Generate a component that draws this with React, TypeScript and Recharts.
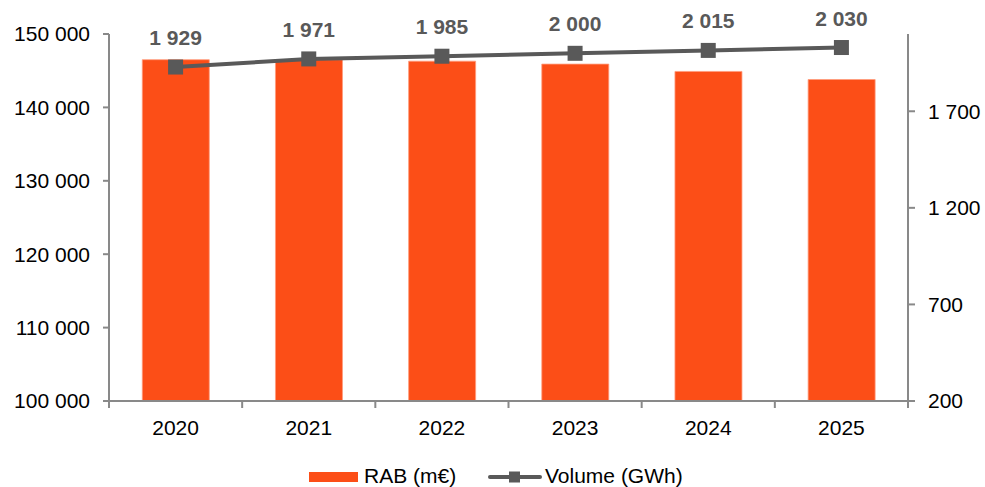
import React from 'react';
import { ComposedChart, Bar, Line, XAxis, YAxis, LabelList, Legend } from 'recharts';

const years = ['2020', '2021', '2022', '2023', '2024', '2025'];
const rab = [146500, 146500, 146300, 145900, 144900, 143800];
const volume = [1929, 1971, 1985, 2000, 2015, 2030];
const leftTicks = [100000, 110000, 120000, 130000, 140000, 150000];
const rightTicks = [200, 700, 1200, 1700];

const data = years.map((y, i) => ({ year: y, rab: rab[i], volume: volume[i] }));

const FONT = '"Liberation Sans", Arial, sans-serif';
const BAR = '#FC4E17';
const LINE = '#595959';
const AXIS = '#898989';

const fmt = (v: number) => String(v).replace(/\B(?=(\d{3})+(?!\d))/g, ' ');

const XTick = (props: any) => {
  const { x, y, payload, index, visibleTicksCount } = props;
  const off = payload && payload.offset ? payload.offset : 66.6;
  const left = x - off;
  const right = x + off;
  return (
    <g>
      <line x1={left} y1={y} x2={left} y2={y + 7} stroke={AXIS} strokeWidth={2} />
      {index === visibleTicksCount - 1 && (
        <line x1={right} y1={y} x2={right} y2={y + 7} stroke={AXIS} strokeWidth={2} />
      )}
      <text x={x} y={y + 34} textAnchor="middle" fill="#000" fontSize={21} fontFamily={FONT}>
        {payload.value}
      </text>
    </g>
  );
};

const SquareDot = (p: any) => (
  <rect key={`d${p.index}`} x={p.cx - 7.5} y={p.cy - 7.5} width={15} height={15} fill={LINE} />
);

const VolLabel = (p: any) => {
  const x = p.viewBox && p.viewBox.x != null ? p.viewBox.x : p.x;
  const y = p.viewBox && p.viewBox.y != null ? p.viewBox.y : p.y;
  return (
    <text x={x} y={y - 22} textAnchor="middle" fill={LINE} fontSize={21} fontWeight="bold" fontFamily={FONT}>
      {fmt(p.value)}
    </text>
  );
};

const LegendContent = () => (
  <div style={{ height: 36, width: 985, position: 'relative', fontFamily: FONT, fontSize: 21, color: '#000' }}>
    <div style={{ position: 'absolute', left: 309, top: 21, width: 49, height: 10, background: BAR }} />
    <span style={{ position: 'absolute', left: 364, top: 13, lineHeight: '24px', whiteSpace: 'nowrap' }}>RAB (m€)</span>
    <svg style={{ position: 'absolute', left: 488, top: 19 }} width={54} height={14}>
      <line x1={2} y1={7} x2={52} y2={7} stroke={LINE} strokeWidth={4} strokeLinecap="round" />
      <rect x={21} y={1.5} width={11} height={11} fill={LINE} />
    </svg>
    <span style={{ position: 'absolute', left: 545, top: 13, lineHeight: '24px', whiteSpace: 'nowrap' }}>Volume (GWh)</span>
  </div>
);

export default function App() {
  return (
    <div style={{ position: 'absolute', left: 0, top: 0, width: 985, height: 487, background: '#fff' }}>
      <ComposedChart
        width={985}
        height={487}
        data={data}
        margin={{ top: 34, right: 0, bottom: 0, left: 0 }}
        barCategoryGap="25%"
        style={{ fontFamily: FONT }}
      >
        <XAxis
          dataKey="year"
          height={50}
          tickSize={0}
          tickMargin={0}
          tickLine={false}
          axisLine={{ stroke: AXIS, strokeWidth: 2 }}
          tick={<XTick />}
          interval={0}
        />
        <YAxis
          yAxisId="left"
          orientation="left"
          width={109}
          domain={[100000, 150000]}
          ticks={leftTicks}
          tickFormatter={fmt}
          tickSize={6}
          tickMargin={13}
          axisLine={{ stroke: AXIS, strokeWidth: 2 }}
          tickLine={{ stroke: AXIS, strokeWidth: 2 }}
          tick={{ fill: '#000', fontSize: 21, fontFamily: FONT }}
          allowDataOverflow
        />
        <YAxis
          yAxisId="right"
          orientation="right"
          width={77}
          domain={[200, 2100]}
          ticks={rightTicks}
          tickFormatter={fmt}
          tickSize={7}
          tickMargin={13}
          axisLine={{ stroke: AXIS, strokeWidth: 2 }}
          tickLine={{ stroke: AXIS, strokeWidth: 2 }}
          tick={{ fill: '#000', fontSize: 21, fontFamily: FONT }}
          allowDataOverflow
        />
        <Bar yAxisId="left" dataKey="rab" name="RAB (m€)" fill={BAR} stroke="#FF9C7C" strokeWidth={0.8} isAnimationActive={false} />
        <Line
          yAxisId="right"
          dataKey="volume"
          name="Volume (GWh)"
          stroke={LINE}
          strokeWidth={4}
          dot={<SquareDot />}
          activeDot={false}
          isAnimationActive={false}
        >
          <LabelList dataKey="volume" content={<VolLabel />} />
        </Line>
        <Legend verticalAlign="bottom" content={<LegendContent />} />
      </ComposedChart>
    </div>
  );
}
